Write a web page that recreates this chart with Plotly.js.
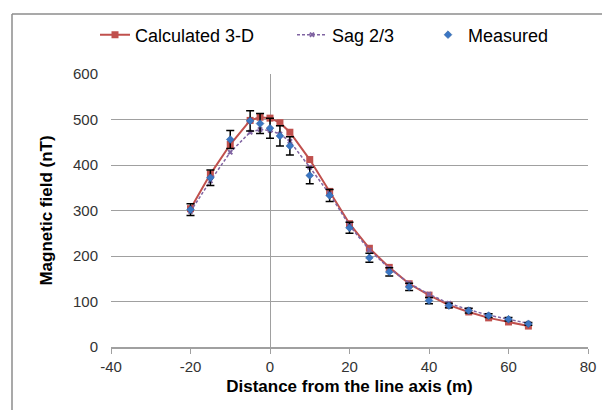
<!DOCTYPE html>
<html>
<head>
<meta charset="utf-8">
<script src="https://cdn.plot.ly/plotly-3.0.1.min.js"></script>
<style>html,body{margin:0;padding:0;background:#fff;}#chart{width:602px;height:410px;}</style>
</head>
<body>
<div id="chart"></div>
<script>
var distance = [-20, -15, -10, -5, -2.5, 0, 2.5, 5, 10, 15, 20, 25, 30, 35, 40, 45, 50, 55, 60, 65];
var calculated3D = [304, 380, 445, 498, 505, 503, 493, 472, 412, 342, 271, 217, 175, 139, 114, 92, 77, 64, 55, 46];
var sag23 = [298, 365, 428, 472, 478, 476, 468, 452, 395, 336, 267, 213, 173, 140, 116, 96, 82, 70, 61, 52];
var measured = [302, 372, 456, 497, 491, 481, 464, 442, 377, 333, 262, 196, 165, 132, 102, 91, 80, 69, 61, 51];
var measuredErr = [13, 17, 20, 22, 22, 22, 22, 20, 18, 13, 12, 10, 9, 8, 7, 5, 5, 4, 4, 3];
var xTicks = [-40, -20, 0, 20, 40, 60, 80];
var yTicks = [0, 100, 200, 300, 400, 500, 600];

var traces = [
  {x: distance, y: calculated3D, name: 'Calculated 3-D', mode: 'lines+markers', type: 'scatter',
   line: {color: '#C0504D', width: 2}, marker: {symbol: 'square', size: 7, color: '#C0504D'}, legend: 'legend'},
  {x: distance, y: sag23, name: 'Sag 2/3', mode: 'lines+markers', type: 'scatter',
   line: {color: '#8064A2', width: 1.5, dash: '3px,2px'}, marker: {symbol: 'x', size: 5, color: '#8064A2'}, legend: 'legend2'},
  {x: distance, y: measured, name: 'Measured', mode: 'markers', type: 'scatter',
   error_y: {type: 'data', array: measuredErr, visible: true, color: '#000', thickness: 1.5, width: 4},
   marker: {symbol: 'diamond', size: 6, color: '#3A76C4', line: {color: '#2A5A96', width: 0.5}}, legend: 'legend3'}
];

var W = 477, H = 273;
function px(x){ return (x - 111) / W; }
function py(y){ return (347 - y) / H; }
var FF = 'Liberation Sans, Arial, sans-serif';
var legFont = {family: FF, size: 18, color: '#000'};
function leg(x){ return {x: px(x), y: py(35), xanchor: 'left', yanchor: 'middle', orientation: 'h', font: legFont, bgcolor: 'rgba(0,0,0,0)', borderwidth: 0}; }

var layout = {
  width: 602, height: 410,
  margin: {l: 111, r: 14, t: 74, b: 63},
  paper_bgcolor: '#fff', plot_bgcolor: '#fff',
  showlegend: true,
  legend: leg(95), legend2: leg(292), legend3: leg(428),
  xaxis: {range: [-40, 80], tickvals: xTicks, ticktext: xTicks.map(String), showgrid: false,
          zeroline: true, zerolinecolor: '#A0A0A0', zerolinewidth: 1,
          showline: true, linecolor: '#A0A0A0', linewidth: 1.5, ticks: 'outside', ticklen: 5, tickcolor: '#A0A0A0',
          tickfont: {family: FF, size: 15, color: '#333'},
          title: {text: '<b>Distance from the line axis (m)</b>', font: {family: FF, size: 17, color: '#000'}, standoff: 6}},
  yaxis: {range: [0, 600], tickvals: yTicks, ticktext: yTicks.map(String), showgrid: true, gridcolor: '#A0A0A0', gridwidth: 1,
          zeroline: false, showline: false, ticks: '', ticklen: 0, ticklabelstandoff: 12,
          tickfont: {family: FF, size: 15, color: '#333'},
          title: {text: '<b>Magnetic field (nT)</b>', font: {family: FF, size: 17, color: '#000'}, standoff: 16}},
  shapes: [
    {type: 'line', xref: 'paper', yref: 'paper', x0: px(12), x1: px(602), y0: py(14), y1: py(14), line: {color: '#8C8C8C', width: 1.5}},
    {type: 'line', xref: 'paper', yref: 'paper', x0: px(12), x1: px(12), y0: py(14), y1: py(410), line: {color: '#8C8C8C', width: 1.5}}
  ]
};
Plotly.newPlot('chart', traces, layout, {displayModeBar: false, staticPlot: true});
</script>
</body>
</html>
